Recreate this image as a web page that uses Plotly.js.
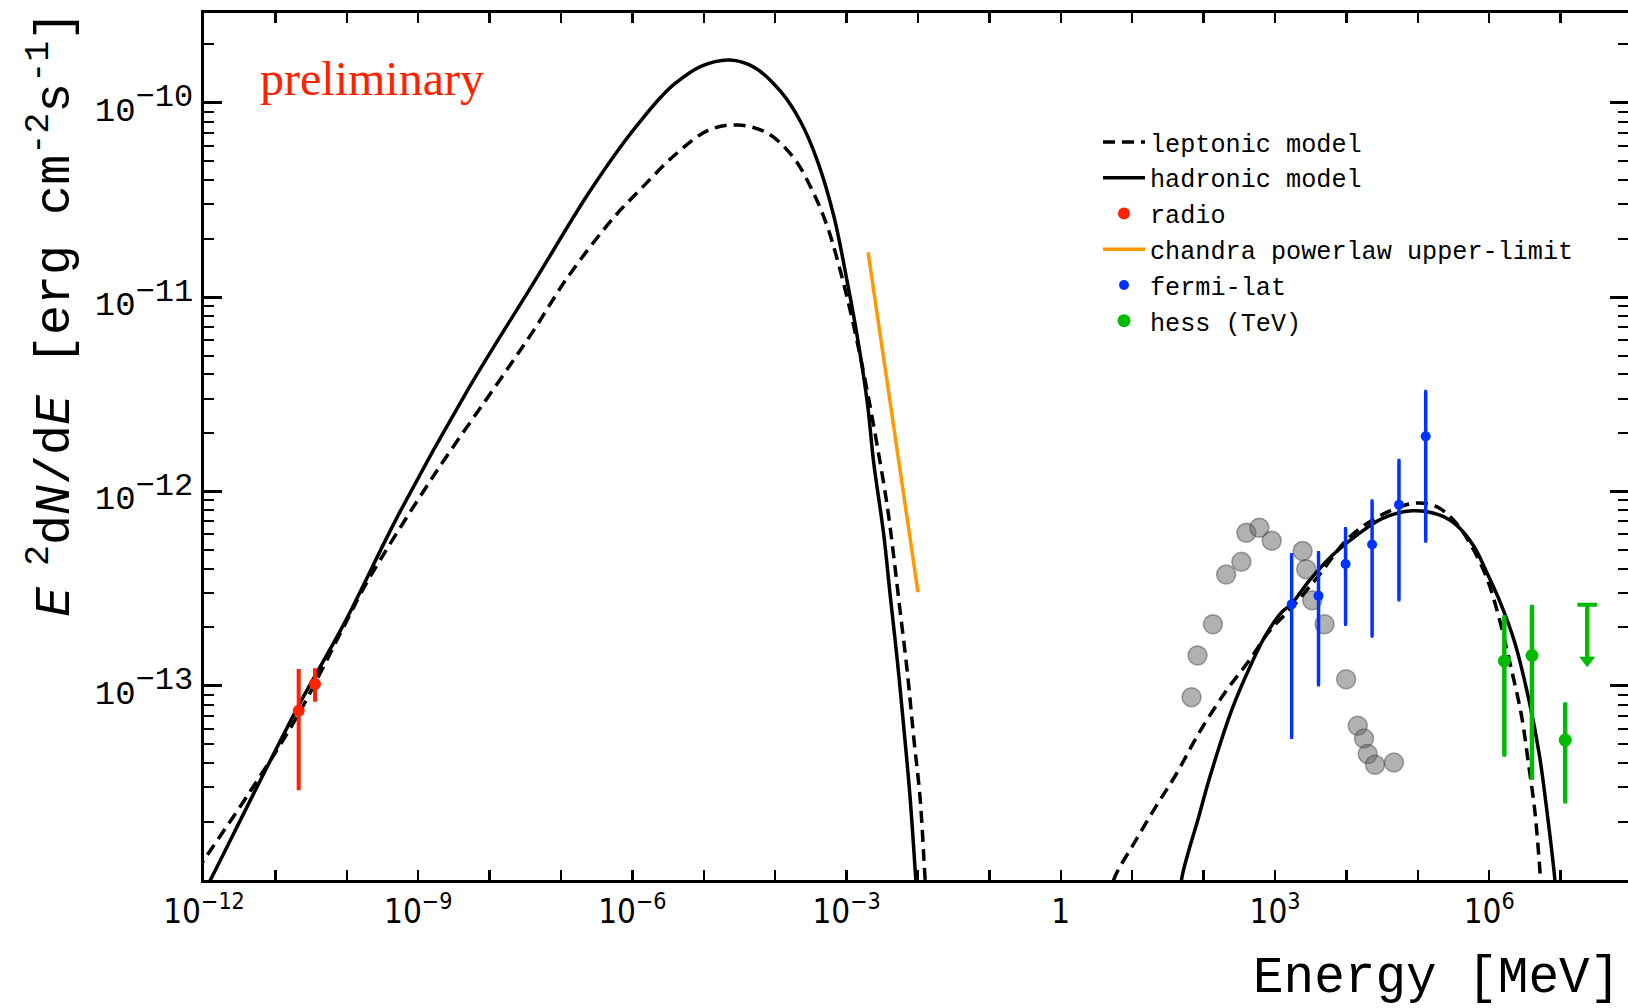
<!DOCTYPE html>
<html><head><meta charset="utf-8">
<script src="https://cdn.plot.ly/plotly-3.0.1.min.js"></script>
<style>html,body{margin:0;padding:0;overflow:hidden;background:#fff;} #chart{width:1628px;height:1008px;}</style>
</head><body><div id="chart"></div>
<script>
// ---- model curves (E in MeV, E^2 dN/dE in erg cm^-2 s^-1) ----
const lepLowE = [7.94e-13, 1.0e-12, 4.47e-12, 2.0e-11, 9.12e-11, 1.91e-10, 1.66e-9, 1.41e-8, 4.17e-8, 1.23e-7, 5.50e-7, 1.35e-6, 3.89e-6, 1.15e-5, 2.95e-5, 7.76e-5, 1.82e-4, 3.47e-4, 5.37e-4, 7.41e-4, 1.02e-3, 1.41e-3, 1.95e-3, 2.69e-3, 3.72e-3, 4.57e-3, 5.62e-3, 7.08e-3, 8.71e-3, 1.07e-2, 1.26e-2, 1.35e-2];
const lepLowF = [1.12e-14, 1.27e-14, 2.87e-14, 6.90e-14, 2.02e-13, 3.40e-13, 1.21e-12, 3.77e-12, 6.76e-12, 1.26e-11, 2.57e-11, 3.64e-11, 5.37e-11, 7.21e-11, 7.69e-11, 6.98e-11, 5.20e-11, 3.41e-11, 2.31e-11, 1.56e-11, 9.89e-12, 5.87e-12, 3.27e-12, 1.71e-12, 8.34e-13, 4.63e-13, 2.42e-13, 1.18e-13, 5.41e-14, 2.64e-14, 1.0e-14, 7.08e-15];
const lepHighE = [5.01, 5.50, 11.0, 22.4, 40.7, 87.1, 204, 437, 832, 1.70e3, 4.17e3, 1.07e4, 3.16e4, 9.33e4, 1.86e5, 3.39e5, 6.03e5, 9.33e5, 1.35e6, 2.0e6, 2.82e6, 3.55e6, 4.37e6, 5.25e6, 5.62e6];
const lepHighF = [7.94e-15, 1.0e-14, 1.58e-14, 2.45e-14, 3.47e-14, 5.75e-14, 9.33e-14, 1.35e-13, 1.91e-13, 2.51e-13, 3.72e-13, 5.75e-13, 7.59e-13, 8.71e-13, 8.32e-13, 6.92e-13, 5.01e-13, 3.55e-13, 2.29e-13, 1.26e-13, 7.08e-14, 3.98e-14, 2.24e-14, 1.0e-14, 7.08e-15];
const hadLowE = [8.91e-13, 1.23e-12, 2.0e-11, 9.12e-11, 5.62e-10, 4.90e-9, 4.17e-8, 2.34e-7, 6.92e-7, 1.35e-6, 2.51e-6, 3.89e-6, 9.12e-6, 2.29e-5, 5.13e-5, 1.20e-4, 2.29e-4, 3.89e-4, 6.61e-4, 1.02e-3, 1.41e-3, 1.95e-3, 2.40e-3, 3.31e-3, 4.07e-3, 5.13e-3, 6.31e-3, 7.76e-3, 9.33e-3, 1.0e-2];
const hadLowF = [7.94e-15, 1.0e-14, 7.60e-14, 2.08e-13, 7.91e-13, 3.31e-12, 1.19e-11, 3.35e-11, 5.98e-11, 8.20e-11, 1.07e-10, 1.25e-10, 1.54e-10, 1.66e-10, 1.52e-10, 1.14e-10, 7.94e-11, 5.04e-11, 2.62e-11, 1.20e-11, 6.27e-12, 2.87e-12, 1.40e-12, 6.01e-13, 2.94e-13, 1.35e-13, 6.15e-14, 2.64e-14, 1.0e-14, 7.08e-15];
const hadHighE = [46.8, 49.0, 63.1, 83.2, 120, 251, 437, 741, 1.26e3, 1.70e3, 3.02e3, 6.31e3, 1.35e4, 3.16e4, 8.32e4, 1.95e5, 3.39e5, 6.03e5, 9.33e5, 1.35e6, 2.29e6, 3.63e6, 5.01e6, 6.31e6, 8.32e6, 8.91e6];
const hadHighF = [7.08e-15, 1.0e-14, 1.45e-14, 2.04e-14, 3.31e-14, 7.59e-14, 1.23e-13, 1.82e-13, 2.40e-13, 2.63e-13, 3.47e-13, 4.68e-13, 5.89e-13, 7.24e-13, 7.94e-13, 7.59e-13, 6.76e-13, 5.25e-13, 3.80e-13, 2.82e-13, 1.66e-13, 8.32e-14, 4.47e-14, 2.40e-14, 1.0e-14, 7.08e-15];

// ---- measurements ----
const radioE = [2.12e-11, 3.59e-11];
const radioF = [7.43e-14, 1.02e-13];
const radioHi = [1.19e-13, 1.20e-13];
const radioLo = [2.97e-14, 8.47e-14];

const chandraE = [2.0e-3, 1.0e-2];
const chandraF = [1.70e-11, 3.03e-13];

const fermiE = [1.71e3, 4.07e3, 9.73e3, 2.29e4, 5.45e4, 1.29e5];
const fermiF = [2.62e-13, 2.90e-13, 4.23e-13, 5.33e-13, 8.53e-13, 1.92e-12];
const fermiHi = [4.72e-13, 4.83e-13, 6.43e-13, 8.91e-13, 1.44e-12, 3.27e-12];
const fermiLo = [5.43e-14, 1.01e-13, 2.07e-13, 1.80e-13, 2.77e-13, 5.55e-13];

const hessE = [1.63e6, 3.97e6, 1.16e7];
const hessF = [1.34e-13, 1.43e-13, 5.25e-14];
const hessHi = [2.25e-13, 2.54e-13, 8.0e-14];
const hessLo = [4.43e-14, 3.36e-14, 2.54e-14];
const hessUlE = [2.36e7];
const hessUlF = [2.61e-13];
const hessUlArrowEnd = [1.35e-13];

const grayE = [67.8, 82.2, 135, 207, 338, 397, 604, 899, 2438, 2735, 3319, 4943, 9908, 14420, 17660, 19910, 25180, 46350];
const grayF = [8.73e-14, 1.43e-13, 2.07e-13, 3.73e-13, 4.35e-13, 6.12e-13, 6.50e-13, 5.57e-13, 4.93e-13, 3.98e-13, 2.75e-13, 2.07e-13, 1.08e-13, 6.22e-14, 5.35e-14, 4.45e-14, 3.92e-14, 4.03e-14];

const xLabelExp = [-12, -9, -6, -3, 0, 3, 6];
const xMinorExp = [-11, -10, -8, -7, -5, -4, -2, -1, 1, 2, 4, 5, 7];
const yLabelExp = [-13, -12, -11, -10];

// ---- helpers ----
const join = (a, b) => a.concat([null], b);
const plus = (v, hi) => v.map((x, i) => hi[i] - x);
const minus = (v, lo) => v.map((x, i) => x - lo[i]);
const mono = 'Liberation Mono, Courier New, monospace';

const xTickVals = xLabelExp.map(k => Math.pow(10, k));
const xTickText = xLabelExp.map(k => k === 0 ? '1' : '10<sup>' + (k < 0 ? '\u2212' + (-k) : k) + '</sup>');
const xMinorVals = xMinorExp.map(k => Math.pow(10, k));
const yTickVals = yLabelExp.map(k => Math.pow(10, k));
const yTickText = yLabelExp.map(k => '10<sup><span style="font-size:32px">\u2212' + (-k) + '</span></sup>');
const yMinor = [];
for (let k = -14; k <= -10; k++) for (let m = 2; m <= 9; m++) { const v = m * Math.pow(10, k); if (v < 3e-10) yMinor.push(v); }

const traces = [
  {x: grayE, y: grayF, mode: 'markers', showlegend: false, hoverinfo: 'skip',
   marker: {size: 19, color: 'rgba(100,100,100,0.5)', line: {color: 'rgba(60,60,60,0.45)', width: 1.5}}},
  {x: join(lepLowE, lepHighE), y: join(lepLowF, lepHighF), mode: 'lines', name: 'leptonic model', legendrank: 1,
   line: {color: 'black', width: 3.5, dash: '12px,7px', shape: 'spline', smoothing: 1}},
  {x: join(hadLowE, hadHighE), y: join(hadLowF, hadHighF), mode: 'lines', name: 'hadronic model', legendrank: 2,
   line: {color: 'black', width: 3.5, shape: 'spline', smoothing: 1}},
  {x: chandraE, y: chandraF, mode: 'lines', name: 'chandra powerlaw upper-limit', legendrank: 4,
   line: {color: '#ff9900', width: 3.5}},
  {x: radioE, y: radioF, mode: 'markers', name: 'radio', legendrank: 3,
   marker: {size: 12, color: '#ff2200'},
   error_y: {type: 'data', symmetric: false, array: plus(radioF, radioHi), arrayminus: minus(radioF, radioLo), color: '#ff2200', thickness: 4, width: 2}},
  {x: fermiE, y: fermiF, mode: 'markers', name: 'fermi-lat', legendrank: 5,
   marker: {size: 10, color: '#0033ff'},
   error_y: {type: 'data', symmetric: false, array: plus(fermiF, fermiHi), arrayminus: minus(fermiF, fermiLo), color: '#0033ff', thickness: 3.5, width: 1.5}},
  {x: hessE, y: hessF, mode: 'markers', name: 'hess (TeV)', legendrank: 6,
   marker: {size: 13, color: '#00bb00'},
   error_y: {type: 'data', symmetric: false, array: plus(hessF, hessHi), arrayminus: minus(hessF, hessLo), color: '#00bb00', thickness: 4.5, width: 2}},
  {x: hessUlE, y: hessUlF, mode: 'markers', showlegend: false, hoverinfo: 'skip',
   marker: {symbol: 'line-ew', size: 14, line: {color: '#00bb00', width: 4}},
   error_y: {type: 'data', symmetric: false, array: [0], arrayminus: minus(hessUlF, hessUlArrowEnd), color: '#00bb00', thickness: 4.5, width: 0}},
  {x: hessUlE, y: hessUlArrowEnd, mode: 'markers', showlegend: false, hoverinfo: 'skip',
   marker: {symbol: 'triangle-down', size: 14, color: '#00bb00'}}
];

const PW = 1424;  // plot-area width in px
const layout = {
  width: 1628, height: 1008,
  margin: {l: 204, r: 0, t: 13, b: 128, pad: 0},
  paper_bgcolor: 'white', plot_bgcolor: 'white',
  showlegend: true,
  legend: {x: (1098 - 204) / PW, y: (880 - 119) / 867, xanchor: 'left', yanchor: 'top',
           bgcolor: 'rgba(0,0,0,0)', borderwidth: 0, traceorder: 'normal', itemwidth: 42,
           font: {family: mono, size: 25.2, color: 'black'}},
  xaxis: {type: 'log', range: [-12, 7.944], showgrid: false, zeroline: false,
          showline: true, linewidth: 3, linecolor: 'black', mirror: 'allticks',
          ticks: 'inside', ticklen: 10, tickwidth: 2.5, tickcolor: 'black',
          tickmode: 'array', tickvals: xTickVals, ticktext: xTickText,
          minor: {ticks: 'inside', ticklen: 10, tickwidth: 2.5, tickcolor: 'black', tickmode: 'array', tickvals: xMinorVals, showgrid: false},
          tickfont: {family: 'DejaVu Sans Condensed, Liberation Sans Narrow, DejaVu Sans, sans-serif', size: 33, color: 'black'}},
  yaxis: {type: 'log', range: [-14, -9.538], showgrid: false, zeroline: false,
          showline: true, linewidth: 3, linecolor: 'black', mirror: 'allticks',
          ticks: 'inside', ticklen: 18, tickwidth: 3, tickcolor: 'black',
          tickmode: 'array', tickvals: yTickVals, ticktext: yTickText,
          ticklabelstandoff: 1, ticklabelshift: 6,
          minor: {ticks: 'inside', ticklen: 10, tickwidth: 2, tickcolor: 'black', tickmode: 'array', tickvals: yMinor, showgrid: false},
          tickfont: {family: mono, size: 34, color: 'black'}},
  annotations: [
    {text: 'preliminary', xref: 'paper', yref: 'paper', x: (258 - 204) / PW, y: (880 - 79) / 867,
     xanchor: 'left', yanchor: 'middle', showarrow: false,
     font: {family: 'Liberation Serif, Times New Roman, serif', size: 48, color: '#ff2200'}},
    {text: 'Energy [MeV]', xref: 'paper', yref: 'paper', x: (1621 - 204) / PW, y: (880 - 978) / 867,
     xanchor: 'right', yanchor: 'middle', showarrow: false, borderpad: 0,
     font: {family: mono, size: 51, color: 'black'}},
    {text: '<i>E</i><sup> 2</sup>d<i>N</i>/d<i>E</i> [erg cm<sup>-2</sup>s<sup>-1</sup>]', xref: 'paper', yref: 'paper',
     x: (51 - 204) / PW, y: (880 - 314) / 867, xanchor: 'center', yanchor: 'middle', textangle: -90, showarrow: false,
     font: {family: mono, size: 50, color: 'black'}}
  ]
};

Plotly.newPlot('chart', traces, layout, {displayModeBar: false, staticPlot: true});
</script></body></html>
